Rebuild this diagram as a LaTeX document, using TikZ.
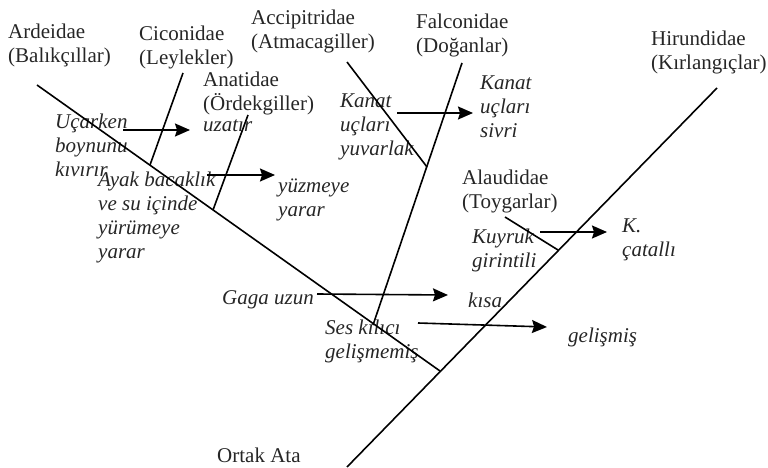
\documentclass[tikz,border=0pt]{standalone}
\usepackage{fontspec}
\setmainfont{Liberation Serif}
\usetikzlibrary{arrows.meta}
\tikzset{
  lbl/.style={anchor=west, inner sep=0pt, align=left, text=black!85,
    font=\fontsize{21}{24}\selectfont},
  ilbl/.style={lbl, font=\fontsize{21}{24}\selectfont\itshape},
  branch/.style={line width=1.6pt, black},
  arr/.style={line width=1.6pt, black, -{Stealth[length=15pt,width=13pt,inset=2pt]}}
}
\begin{document}
\begin{tikzpicture}[x=1pt,y=-1pt]
\useasboundingbox (0,0) rectangle (768,468);
% labels
\node[lbl] (ard) at (8,45) {Ardeidae\\(Balıkçıllar)};
\node[lbl] (cic) at (139,47) {Ciconidae\\(Leylekler)};
\node[lbl] (acc) at (251,31) {Accipitridae\\(Atmacagiller)};
\node[lbl] (fal) at (416,35) {Falconidae\\(Doğanlar)};
\node[lbl] (hir) at (651,52) {Hirundidae\\(Kırlangıçlar)};
\node[lbl] (ana) at (203,93) {Anatidae\\(Ördekgiller)};
\node[ilbl] (uzatir) at (203,126) {uzatır};
\node[ilbl] (ucarken) at (55,145) {Uçarken\\boynunu\\kıvırır};
\node[ilbl] (ayak) at (98,217) {Ayak bacaklık\\ve su içinde\\yürümeye\\yarar};
\node[ilbl] (yuzmeye) at (278,200) {yüzmeye\\yarar};
\node[ilbl] (kanat1) at (340,127) {Kanat\\uçları\\yuvarlak};
\node[ilbl] (kanat2) at (480,107) {Kanat\\uçları\\sivri};
\node[lbl] (ala) at (462,191) {Alaudidae\\(Toygarlar)};
\node[ilbl] (kuyruk) at (472,250) {Kuyruk\\girintili};
\node[ilbl] (kcatal) at (622,240) {K.\\çatallı};
\node[ilbl] (gaga) at (222,300) {Gaga uzun};
\node[ilbl] (kisa) at (468,300) {kısa};
\node[ilbl] (ses) at (325,341) {Ses kılıcı\\gelişmemiş};
\node[ilbl] (gelismis) at (568,337) {gelişmiş};
\node[lbl] (ortak) at (217,455) {Ortak Ata};
% tree coordinates
\coordinate (root) at (347,467);
\coordinate (hirTip) at (717,88);
\coordinate (j1) at (440,371);
\coordinate (ardTip) at (37,85);
\coordinate (cicTip) at (183,73);
\coordinate (cicJ) at (150,165);
\coordinate (anaTip) at (248,115);
\coordinate (anaJ) at (213,210);
\coordinate (falTip) at (462,63);
\coordinate (falJ) at (373,325);
\coordinate (accTip) at (347,62);
\coordinate (accJ) at (427,167);
\coordinate (alaTip) at (505,217);
\coordinate (alaJ) at (558,250);
\draw[branch] (root) -- (hirTip);
\draw[branch] (ardTip) -- (j1);
\draw[branch] (cicTip) -- (cicJ);
\draw[branch] (anaTip) -- (anaJ);
\draw[branch] (falTip) -- (falJ);
\draw[branch] (accTip) -- (accJ);
\draw[branch] (alaTip) -- (alaJ);
% arrows
\coordinate (a1s) at (123,130); \coordinate (a1e) at (190,130);
\coordinate (a2s) at (207,175); \coordinate (a2e) at (275,175);
\coordinate (a3s) at (397,113); \coordinate (a3e) at (473,113);
\coordinate (a4s) at (540,232); \coordinate (a4e) at (607,232);
\coordinate (a5s) at (317,294); \coordinate (a5e) at (448,295);
\coordinate (a6s) at (418,323); \coordinate (a6e) at (547,327);
\draw[arr] (a1s) -- (a1e);
\draw[arr] (a2s) -- (a2e);
\draw[arr] (a3s) -- (a3e);
\draw[arr] (a4s) -- (a4e);
\draw[arr] (a5s) -- (a5e);
\draw[arr] (a6s) -- (a6e);
\end{tikzpicture}
\end{document}
